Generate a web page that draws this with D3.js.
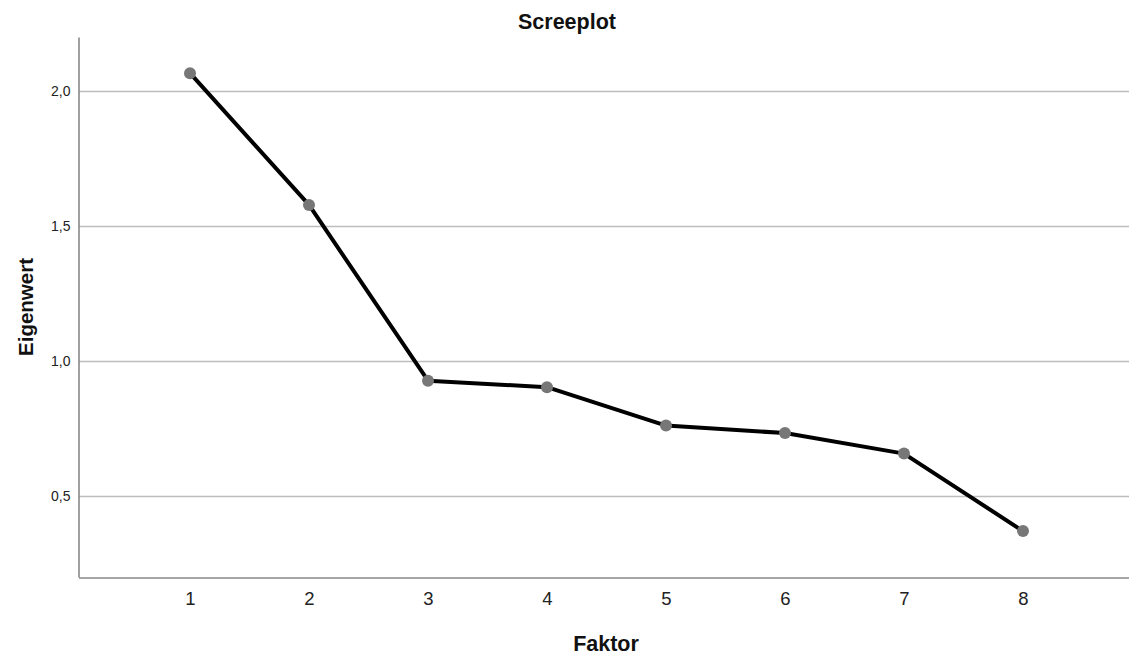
<!DOCTYPE html>
<html><head><meta charset="utf-8">
<script src="https://cdn.jsdelivr.net/npm/d3@7"></script>
<style>body{margin:0;background:#fff}svg{display:block;font-family:Arial,"Liberation Sans",sans-serif}</style>
</head><body>
<svg id="c" width="1129" height="655"></svg>
<script>
const factors = [1,2,3,4,5,6,7,8];
const eigenvalues = [2.066, 1.578, 0.927, 0.903, 0.761, 0.733, 0.657, 0.370];
const yTicks = [0.5, 1.0, 1.5, 2.0];
const title = "Screeplot", xTitle = "Faktor", yTitle = "Eigenwert";

const svg = d3.select("#c");
const x = d3.scaleLinear().domain([0.063, 8.937]).range([78.5, 1134.5]);
const y = d3.scaleLinear().domain([0.2, 2.2]).range([577, 37]);
const fmt = d => d3.format(".1f")(d).replace(".", ",");

// gridlines
svg.append("g").selectAll("line").data(yTicks).join("line")
  .attr("x1", 79).attr("x2", 1129)
  .attr("y1", d => Math.round(y(d)) + 0.5).attr("y2", d => Math.round(y(d)) + 0.5)
  .attr("stroke", "#bdbdbd").attr("stroke-width", 1.4);

// y axis
const ya = svg.append("g").attr("transform", "translate(78.5,0)")
  .call(d3.axisLeft(y).tickValues(yTicks).tickFormat(fmt).tickSize(0).tickPadding(8));
ya.select(".domain").attr("stroke", "#888").attr("stroke-width", 1.6);
ya.selectAll("text").attr("font-size", 14).attr("fill", "#222").attr("font-family", "Arial, 'Liberation Sans', sans-serif");

// x axis
const xa = svg.append("g").attr("transform", "translate(0,577.5)")
  .call(d3.axisBottom(x).tickValues(factors).tickFormat(d3.format("d")).tickSize(0).tickPadding(14));
xa.select(".domain").attr("stroke", "#888").attr("stroke-width", 1.6);
xa.selectAll("text").attr("font-size", 18.5).attr("fill", "#222").attr("font-family", "Arial, 'Liberation Sans', sans-serif");

// line
svg.append("path").datum(factors.map((f,i) => [f, eigenvalues[i]]))
  .attr("d", d3.line().x(d => x(d[0])).y(d => y(d[1])))
  .attr("fill", "none").attr("stroke", "#000").attr("stroke-width", 4).attr("stroke-linejoin", "round");

// points
svg.append("g").selectAll("circle").data(factors).join("circle")
  .attr("cx", d => x(d)).attr("cy", (d,i) => y(eigenvalues[i])).attr("r", 6)
  .attr("fill", "#777");

// titles
svg.append("text").attr("x", 567).attr("y", 29).attr("text-anchor", "middle")
  .attr("font-size", 21.5).attr("font-weight", "bold").attr("fill", "#111").text(title);
svg.append("text").attr("x", 606).attr("y", 651).attr("text-anchor", "middle")
  .attr("font-size", 21.5).attr("font-weight", "bold").attr("fill", "#111").text(xTitle);
svg.append("text").attr("transform", "translate(33,307) rotate(-90)").attr("text-anchor", "middle")
  .attr("font-size", 20.5).attr("font-weight", "bold").attr("fill", "#111").text(yTitle);
</script>
</body></html>
